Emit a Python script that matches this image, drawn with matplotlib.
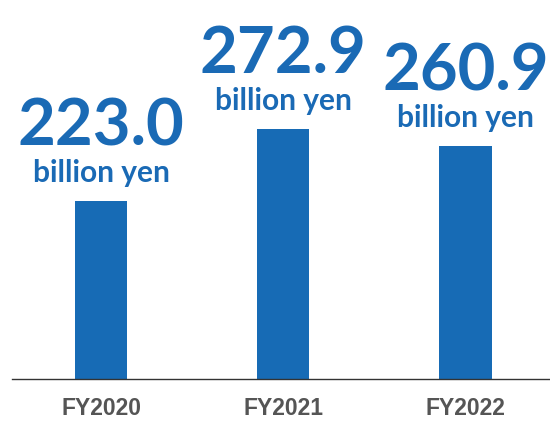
import matplotlib
matplotlib.use("Agg")
import matplotlib.pyplot as plt

categories = ["FY2020", "FY2021", "FY2022"]
values = [223.0, 272.9, 260.9]
value_labels = ["223.0", "272.9", "260.9"]
unit_label = "billion yen"

bar_color = "#176BB5"
text_color = "#1A6AB5"

fig = plt.figure(figsize=(5.5, 4.22), dpi=100)
ax = fig.add_axes([11.6 / 550, (422 - 379.3) / 422, 1 - 11.6 / 550, 379.3 / 422])

x = list(range(len(categories)))
ax.bar(x, values, width=0.286, color=bar_color, zorder=2)
ax.set_xlim(-0.4926, 2.464)
ax.set_ylim(99.9, 362.2)

for xi, v, lab in zip(x, values, value_labels):
    ax.annotate(unit_label, xy=(xi, v), xytext=(0, 13.7), textcoords="offset points",
                ha="center", va="baseline", fontsize=21.5, fontweight="bold",
                family="Lato", color=text_color, annotation_clip=False)
    ax.annotate(lab, xy=(xi, v), xytext=(0, 40.5), textcoords="offset points",
                ha="center", va="baseline", fontsize=47, fontweight="bold",
                family="Lato", color=text_color, annotation_clip=False)

for s in ["top", "right", "left"]:
    ax.spines[s].set_visible(False)
ax.spines["bottom"].set_color("#333333")
ax.spines["bottom"].set_linewidth(1.0)
ax.set_yticks([])
ax.set_xticks(x)
ax.set_xticklabels(categories, fontsize=16.5, fontweight="bold",
                   family="Liberation Sans", color="#555555")
ax.tick_params(axis="x", length=0, pad=13)

fig.savefig("out.png", dpi=100)
